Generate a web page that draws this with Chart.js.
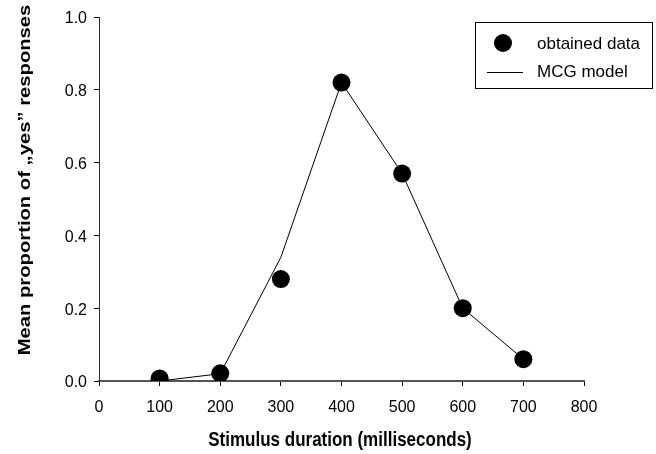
<!DOCTYPE html>
<html>
<head>
<meta charset="utf-8">
<script src="https://cdn.jsdelivr.net/npm/chart.js@4/dist/chart.umd.min.js"></script>
<style>
  html, body { margin: 0; padding: 0; background: #fff; }
  #wrap { width: 656px; height: 454px; }
</style>
</head>
<body>
<div id="wrap"><canvas id="myChart" width="656" height="454"></canvas></div>
<script>
// stimulus durations (ms)
var durations = [100, 200, 300, 400, 500, 600, 700];
// mean proportion of "yes" responses
var obtained = [0.007, 0.021, 0.28, 0.82, 0.57, 0.20, 0.06];
var mcgModel = [0.0, 0.02, 0.34, 0.82, 0.57, 0.20, 0.06];

var xTicks = [0, 100, 200, 300, 400, 500, 600, 700, 800];
var yTicks = [0.0, 0.2, 0.4, 0.6, 0.8, 1.0];

var FONT = 'Liberation Sans, Arial, sans-serif';

function pts(xs, ys) {
    var out = [];
    for (let i = 0; i < xs.length; i++) {
        out.push({x: xs[i], y: ys[i]});
    }
    return out;
}

// legend box + axis titles drawn by hand, like the original figure
// (the original is a bit stretched vertically, so the titles are scaled)
var extras = {
    id: 'extras',
    afterDraw: function(chart) {
        var ctx = chart.ctx;
        ctx.save();
        // legend
        ctx.fillStyle = '#fff';
        ctx.fillRect(475.5, 22.5, 177, 66);
        ctx.strokeStyle = '#000';
        ctx.lineWidth = 1;
        ctx.strokeRect(475.5, 22.5, 177, 66);
        ctx.fillStyle = '#000';
        ctx.beginPath();
        ctx.arc(503, 43, 9, 0, Math.PI * 2);
        ctx.fill();
        ctx.beginPath();
        ctx.moveTo(487, 72.5);
        ctx.lineTo(523, 72.5);
        ctx.stroke();
        ctx.font = '17px ' + FONT;
        ctx.textBaseline = 'middle';
        ctx.textAlign = 'left';
        ctx.fillText(chart.data.datasets[0].label, 537, 44);
        ctx.fillText(chart.data.datasets[1].label, 537, 72);
        // axis titles
        ctx.font = 'bold 17px ' + FONT;
        ctx.textAlign = 'center';
        ctx.save();
        ctx.translate(340, 441);
        ctx.scale(1, 1.17);
        ctx.fillText('Stimulus duration (milliseconds)', 0, 0);
        ctx.restore();
        ctx.translate(25, 180);
        ctx.rotate(-Math.PI / 2);
        ctx.scale(1.19, 1);
        ctx.fillText('Mean proportion of \u201Eyes\u201D responses', 0, 0);
        ctx.restore();
    }
};

var ctx = document.getElementById('myChart').getContext('2d');
var myChart = new Chart(ctx, {
    type: 'scatter',
    data: {
        datasets: [{
            label: 'obtained data',
            data: pts(durations, obtained),
            showLine: false,
            pointRadius: 9,
            pointHoverRadius: 9,
            backgroundColor: '#000',
            borderColor: '#000',
            borderWidth: 0,
            order: 0
        }, {
            label: 'MCG model',
            data: pts(durations, mcgModel),
            showLine: true,
            pointRadius: 0,
            borderColor: '#000',
            borderWidth: 1,
            tension: 0,
            order: 1
        }]
    },
    plugins: [extras],
    options: {
        responsive: false,
        animation: false,
        events: [],
        layout: { padding: { left: 0, right: 72, top: 17, bottom: 0 } },
        plugins: {
            legend: { display: false },
            tooltip: { enabled: false }
        },
        scales: {
            x: {
                type: 'linear',
                min: 0,
                max: 800,
                afterBuildTicks: function(s) { s.ticks = xTicks.map(v => ({value: v})); },
                afterFit: function(s) { s.height = 73; },
                ticks: { color: '#000', font: { family: FONT, size: 16 }, padding: 12, maxRotation: 0 },
                grid: { drawOnChartArea: false, drawTicks: true, tickLength: 5, color: '#000' },
                border: { color: '#555', width: 2 }
            },
            y: {
                min: 0,
                max: 1,
                afterBuildTicks: function(s) { s.ticks = yTicks.map(v => ({value: v})); },
                afterFit: function(s) { s.width = 99; },
                ticks: {
                    color: '#000', font: { family: FONT, size: 16 }, padding: 7, labelOffset: 2,
                    callback: function(v) { return v.toFixed(1); }
                },
                grid: { drawOnChartArea: false, drawTicks: true, tickLength: 5, color: '#000' },
                border: { color: '#333', width: 1 }
            }
        }
    }
});
</script>
</body>
</html>
